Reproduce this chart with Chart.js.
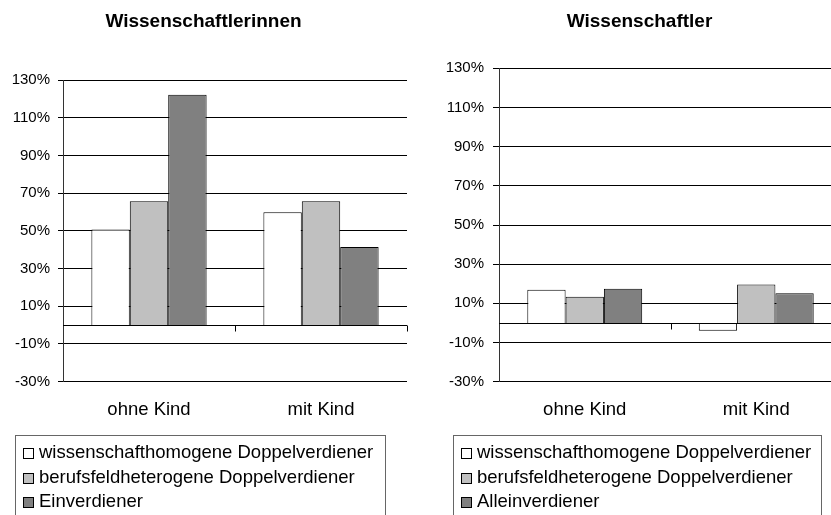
<!DOCTYPE html>
<html>
<head>
<meta charset="utf-8">
<script src="https://cdn.jsdelivr.net/npm/chart.js@4.4.0/dist/chart.umd.min.js"></script>
<style>
body { margin: 0; background: #fff; width: 831px; height: 515px; overflow: hidden; position: relative;
       font-family: 'Liberation Sans', Arial, sans-serif; }
.box { position: absolute; top: 0; }
.legend { position: absolute; top: 435px; height: 100px; border: 1px solid #666; box-sizing: border-box;
          padding-top: 4px; font-size: 18.5px; color: #000; }
.legend div { height: 24.5px; line-height: 24.5px; white-space: nowrap; }
.legend span { display: inline-block; width: 9px; height: 9px; border: 1px solid #000;
               margin: 0 5px 0 7px; vertical-align: -1px; }
</style>
</head>
<body>
<div class="box" style="left:0;width:418px;height:515px"><canvas id="women" width="418" height="515"></canvas></div>
<!-- the right chart runs past the window edge, like in the original -->
<div class="box" style="left:420px;width:422px;height:515px"><canvas id="men" width="422" height="515"></canvas></div>
<div class="legend" id="legendWomen" style="left:15px;width:371px"></div>
<div class="legend" id="legendMen" style="left:453px;width:369px"></div>
<script>
var categories = ['ohne Kind', 'mit Kind'],
    womenLabels = ['wissenschafthomogene Doppelverdiener', 'berufsfeldheterogene Doppelverdiener', 'Einverdiener'],
    menLabels = ['wissenschafthomogene Doppelverdiener', 'berufsfeldheterogene Doppelverdiener', 'Alleinverdiener'],
    womenHomogen = [50.7, 59.9],
    womenHetero = [65.7, 65.7],
    womenSingle = [122.2, 41.4],
    menHomogen = [17.0, -4.0],
    menHetero = [13.4, 19.6],
    menSingle = [17.4, 15.1],
    yMin = -30,
    yMax = 130,
    yStep = 20,
    fills = ['#ffffff', '#c0c0c0', '#808080'];

Chart.defaults.font.family = "'Liberation Sans', Arial, sans-serif";
Chart.defaults.color = '#000';

// Excel style zero line with small category ticks hanging below it
var zeroLine = {
    id: 'zeroLine',
    afterDatasetsDraw: function(chart) {
        var ctx = chart.ctx,
            area = chart.chartArea,
            y0 = Math.round(chart.scales.y.getPixelForValue(0)) + 0.5,
            step = (area.right - area.left) / categories.length,
            i, px;

        ctx.save();
        ctx.strokeStyle = '#000';
        ctx.lineWidth = 1;
        ctx.beginPath();
        ctx.moveTo(area.left, y0);
        ctx.lineTo(area.right, y0);
        for ( i = 1; i <= categories.length; i++ ) {
            px = Math.round(area.left + step * i) + 0.5;
            ctx.moveTo(px, y0);
            ctx.lineTo(px, y0 + 6);
        }
        ctx.stroke();
        ctx.restore();
    }
};

function makeChart(id, title, labels, series, o) {
    var datasets = [], i;

    for ( i = 0; i < series.length; i++ ) {
        datasets.push({
            label: labels[i],
            data: series[i],
            backgroundColor: fills[i],
            borderColor: '#000',
            borderWidth: 1,
            barPercentage: 1,
            categoryPercentage: 0.67
        });
    }

    return new Chart(document.getElementById(id).getContext('2d'), {
        type: 'bar',
        data: { labels: categories, datasets: datasets },
        plugins: [zeroLine],
        options: {
            responsive: false,
            animation: false,
            layout: { padding: { left: o.padLeft, right: o.padRight, top: 0, bottom: 0 } },
            plugins: {
                legend: { display: false },
                tooltip: { enabled: false },
                title: {
                    display: true,
                    text: title,
                    color: '#000',
                    font: { size: 19, weight: 'bold' },
                    padding: { top: 10.6, bottom: o.titleBottom }
                }
            },
            scales: {
                x: {
                    grid: { display: false, drawTicks: false },
                    border: { display: false },
                    ticks: { font: { size: 18.5 }, padding: 17, maxRotation: 0, autoSkip: false },
                    afterFit: function(scale) { scale.height = 133.3; }
                },
                y: {
                    min: yMin,
                    max: yMax,
                    grid: { color: '#000', lineWidth: 1, drawTicks: true, tickLength: o.tick },
                    border: { display: true, color: '#333', width: 1 },
                    ticks: {
                        stepSize: yStep,
                        font: { size: 15 },
                        padding: o.tickPad,
                        callback: function(v) { return v + '%'; }
                    },
                    afterFit: function(scale) { scale.width = o.axisWidth; }
                }
            }
        }
    });
}

function makeLegend(id, labels) {
    var el = document.getElementById(id), i, row, box;
    for ( i = 0; i < labels.length; i++ ) {
        row = document.createElement('div');
        box = document.createElement('span');
        box.style.background = fills[i];
        row.appendChild(box);
        row.appendChild(document.createTextNode(labels[i]));
        el.appendChild(row);
    }
}

makeChart('women', 'Wissenschaftlerinnen', womenLabels, [womenHomogen, womenHetero, womenSingle],
    { padLeft: 0, padRight: 11, axisWidth: 63, tick: 5, tickPad: 8, titleBottom: 46.6 });
makeChart('men', 'Wissenschaftler', menLabels, [menHomogen, menHetero, menSingle],
    { padLeft: 17, padRight: 0, axisWidth: 62, tick: 6, tickPad: 9, titleBottom: 34.9 });

makeLegend('legendWomen', womenLabels);
makeLegend('legendMen', menLabels);
</script>
</body>
</html>
